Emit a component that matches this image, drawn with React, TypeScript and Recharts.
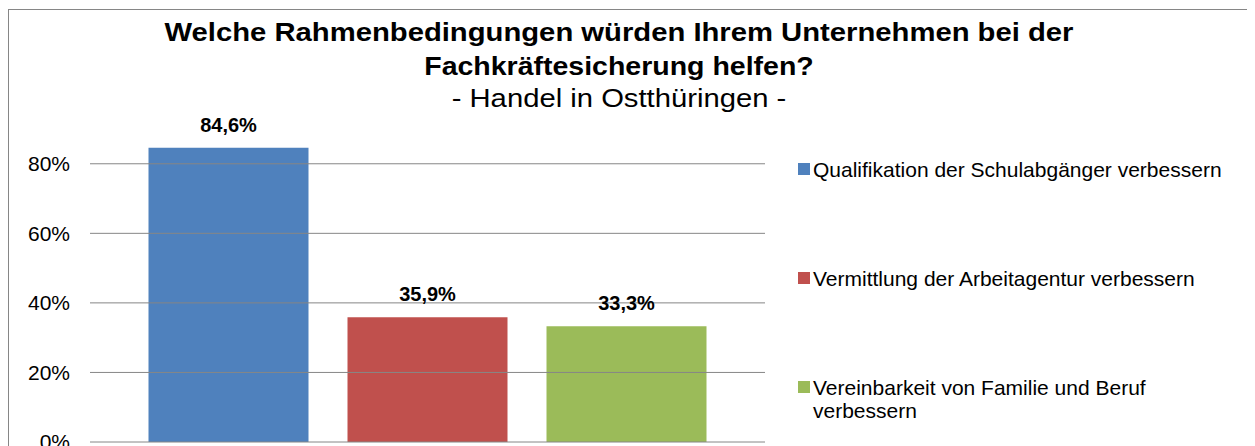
import { Bar, BarChart, LabelList, ReferenceLine, XAxis, YAxis } from "recharts";

const titleLines = [
  "Welche Rahmenbedingungen würden Ihrem Unternehmen bei der",
  "Fachkräftesicherung helfen?",
];
const subtitle = "- Handel in Ostthüringen -";

const categories = ["Handel in Ostthüringen"];
const seriesNames = [
  "Qualifikation der Schulabgänger verbessern",
  "Vermittlung der Arbeitagentur verbessern",
  "Vereinbarkeit von Familie und Beruf verbessern",
];
const seriesValues = [84.6, 35.9, 33.3];
const seriesColors = ["#4F81BD", "#C0504D", "#9BBB59"];
const yTicks = [0, 20, 40, 60, 80];

const FONT = '"Liberation Sans", Arial, sans-serif';

const data = categories.map((name) => {
  const row: Record<string, string | number> = { name };
  seriesValues.forEach((v, i) => {
    row[`s${i}`] = v;
  });
  return row;
});

const pct = (v: number) => `${v.toFixed(1).replace(".", ",")}%`;

function Title() {
  // the reference title is a bit wider than plain Arial, so stretch it horizontally
  const lines = [
    { text: titleLines[0], y: 33, bold: true, sx: 1.17 },
    { text: titleLines[1], y: 67, bold: true, sx: 1.14 },
    { text: subtitle, y: 99, bold: false, sx: 1.17 },
  ];
  return (
    <svg
      width={1247}
      height={120}
      style={{ position: "absolute", left: 0, top: 0, pointerEvents: "none" }}
    >
      {lines.map((l) => (
        <text
          key={l.text}
          x={0}
          y={l.y}
          transform={`translate(611,0) scale(${l.sx},1)`}
          textAnchor="middle"
          fontFamily={FONT}
          fontWeight={l.bold ? "bold" : "normal"}
          fontSize={25}
          fill="#000"
        >
          {l.text}
        </text>
      ))}
    </svg>
  );
}

function Legend() {
  return (
    <>
      {seriesNames.map((name, i) => (
        <div
          key={name}
          style={{
            position: "absolute",
            left: 790,
            top: 150 + i * 109,
            width: 430,
            display: "flex",
            alignItems: "flex-start",
            fontFamily: FONT,
            fontSize: 21,
            lineHeight: "23px",
            color: "#000",
          }}
        >
          <span
            style={{
              width: 12,
              height: 12,
              marginTop: 5,
              marginRight: 3,
              flex: "0 0 12px",
              background: seriesColors[i],
            }}
          />
          <span>{name}</span>
        </div>
      ))}
    </>
  );
}

export default function App() {
  return (
    <div style={{ position: "relative", width: 1247, height: 480 }}>
      <style>{`html,body{overflow:hidden}`}</style>
      <div
        style={{
          position: "absolute",
          left: 0,
          top: 1,
          width: 1247,
          height: 478,
          border: "1px solid #868686",
          boxSizing: "border-box",
        }}
      />
      <Title />
      <div style={{ position: "absolute", left: 0, top: 0 }}>
        <BarChart
          width={1247}
          height={480}
          data={data}
          margin={{ top: 121, right: 490, bottom: 46, left: 0 }}
          barCategoryGap={58.5}
          barGap={39}
        >
          <XAxis dataKey="name" hide />
          <YAxis
            width={82}
            domain={[0, 90]}
            ticks={yTicks}
            tickFormatter={(v: number) => `${v}%`}
            axisLine={false}
            tickLine={false}
            tickSize={0}
            tickMargin={20}
            tick={{ fontFamily: FONT, fontSize: 21, fill: "#000" }}
          />
          {yTicks.map((t) => (
            <ReferenceLine key={t} y={t} stroke="#868686" strokeWidth={1} ifOverflow="extendDomain" />
          ))}
          {seriesNames.map((name, i) => (
            <Bar
              key={name}
              dataKey={`s${i}`}
              name={name}
              fill={seriesColors[i]}
              isAnimationActive={false}
            >
              <LabelList
                dataKey={`s${i}`}
                position="top"
                offset={16}
                formatter={(v: number) => pct(v)}
                style={{ fontFamily: FONT, fontSize: 20, fontWeight: "bold", fill: "#000" }}
              />
            </Bar>
          ))}
        </BarChart>
      </div>
      <Legend />
    </div>
  );
}
